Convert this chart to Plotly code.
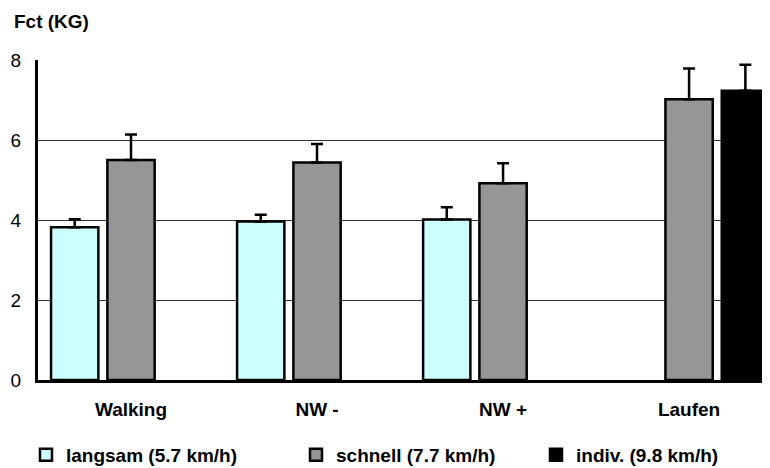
import plotly.graph_objects as go

categories = ["Walking", "NW -", "NW +", "Laufen"]
langsam = [3.82, 3.96, 4.01, None]
langsam_err = [0.20, 0.17, 0.31, None]
schnell = [5.50, 5.44, 4.92, 7.02]
schnell_err = [0.64, 0.46, 0.50, 0.77]
indiv = [None, None, None, 7.23]
indiv_err = [None, None, None, 0.65]
series_names = ["langsam (5.7 km/h)", "schnell (7.7 km/h)", "indiv. (9.8 km/h)"]
y_ticks = [0, 2, 4, 6, 8]

FONT = "Liberation Sans, Arial, sans-serif"
colors = ["#CCFFFF", "#969696", "#000000"]
legend_widths = [225, 195, 180]

fig = go.Figure()
for name, vals, errs, col, lw in zip(series_names, [langsam, schnell, indiv],
                                     [langsam_err, schnell_err, indiv_err], colors,
                                     legend_widths):
    fig.add_trace(go.Bar(
        x=categories, y=vals, name="<b>" + name + "</b>",
        marker=dict(color=col, line=dict(color="#000000", width=2.5)),
        error_y=dict(type="data", array=errs, arrayminus=[0] * len(errs), symmetric=False,
                     color="#000000", thickness=2.5, width=6),
        legendwidth=lw,
    ))

# page body has an 8px default margin: size the figure so it fills the 770x468 window
fig.update_layout(
    template="none",
    width=762, height=460,
    margin=dict(l=30, r=0, t=52, b=88, pad=0, autoexpand=False),
    paper_bgcolor="white", plot_bgcolor="white",
    barmode="group", bargap=0.092, bargroupgap=0.16,
    font=dict(family=FONT, size=19, color="#000000"),
    showlegend=True,
    legend=dict(orientation="h", x=-0.0164, y=-0.234, yanchor="middle",
                xanchor="left", font=dict(size=19, family=FONT),
                bgcolor="rgba(0,0,0,0)", traceorder="normal", borderwidth=0),
    xaxis=dict(range=[-0.5, 3.435], showgrid=False, showline=True, linecolor="#000000",
               linewidth=3, ticks="", ticklabelstandoff=10, automargin=False,
               tickprefix="<b>", ticksuffix="</b>"),
    yaxis=dict(range=[0, 8], tickvals=y_ticks, showgrid=True, gridcolor="#333333",
               gridwidth=1, showline=True, linecolor="#000000", linewidth=3, ticks="",
               ticklabelstandoff=10, zeroline=False, automargin=False,
               tickprefix="<b>", ticksuffix="</b>"),
    annotations=[dict(text="<b>Fct (KG)</b>", xref="paper", yref="paper",
                      x=-0.0355, y=1.119, xanchor="left", yanchor="middle",
                      showarrow=False, font=dict(size=19, family=FONT))],
)

fig.write_html("out.html")
